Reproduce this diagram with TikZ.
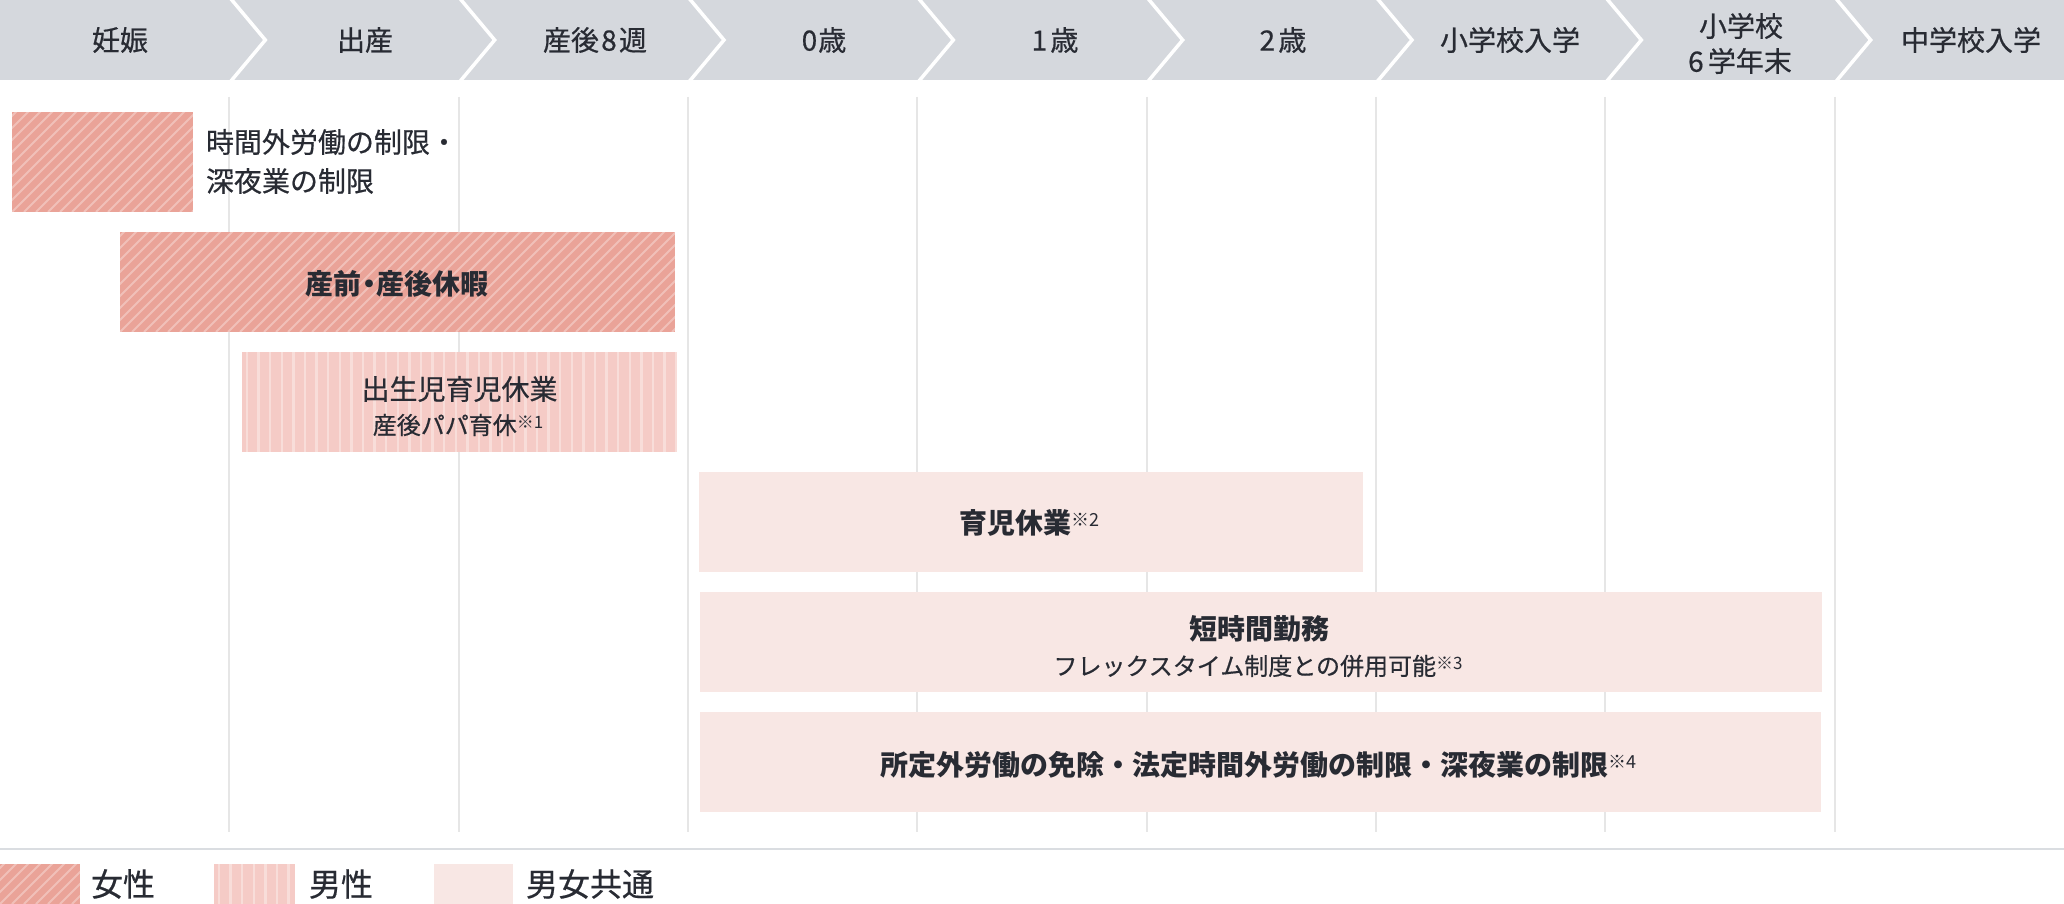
\documentclass[tikz,border=0pt]{standalone}
\usepackage{fontspec}
\newfontfamily\jp{Noto Sans CJK JP}
\newfontfamily\jpm{Noto Sans CJK JP}[FakeBold=0.5]
\definecolor{hdr}{HTML}{D5D8DD}
\definecolor{txt}{HTML}{282B33}
\definecolor{femfill}{HTML}{EAA398}
\definecolor{malefill}{HTML}{F5CBC6}
\definecolor{comfill}{HTML}{F8E7E4}
\definecolor{gridc}{HTML}{E6E6E6}
\definecolor{rulec}{HTML}{DADDE1}
\newcommand\kome[3]{\raisebox{#2}{\jp\mdseries\fontsize{#1}{#1}\selectfont ※#3}}
\tikzset{
  every node/.style={text=txt, inner sep=0pt, outer sep=0pt},
  fembox/.style={fill=femfill, path picture={%
      \foreach \i in {-12,...,50}{%
        \draw[white, opacity=0.32, line width=2pt]
          ([xshift=\i*12pt]path picture bounding box.south west) -- ++(140pt,140pt);}}},
  malebox/.style={fill=malefill, path picture={%
      \foreach \i in {0,...,45}{%
        \draw[white, opacity=0.35, line width=2.5pt]
          ([xshift=\i*11.6pt+5pt]path picture bounding box.south west) -- ++(0pt,140pt);}}},
  combox/.style={fill=comfill},
  bar/.style={anchor=north west, inner sep=0pt, minimum height=100pt},
  swatch/.style={anchor=north west, inner sep=0pt, minimum height=40pt},
  hdrtext/.style={font=\jpm\fontsize{28}{34}\selectfont},
  maintext/.style={font=\jpm\fontsize{28}{34}\selectfont},
  boldtext/.style={font=\jp\bfseries\fontsize{28}{34}\selectfont},
  subtext/.style={font=\jpm\fontsize{24}{30}\selectfont},
  legtext/.style={font=\jpm\fontsize{32}{38}\selectfont, anchor=west},
  sep/.style={white, line width=3.5pt},
  gridline/.style={gridc, line width=2pt},
}
\begin{document}
\begin{tikzpicture}[x=1pt, y=-1pt]
\useasboundingbox (0,0) rectangle (2064,904);
\fill[white] (0,0) rectangle (2064,904);
% header band
\fill[hdr] (0,0) rectangle (2064,80);
\foreach \k in {1,...,8}{
  \draw[sep] ({\k*229.333},-3) -- ({\k*229.333+36},40) -- ({\k*229.333},83);
}
\node[hdrtext] (h0) at (120,40) {妊娠};
\node[hdrtext] (h1) at (365,40) {出産};
\node[hdrtext] (h2) at (595,40) {産後\kern0.08em 8\kern0.08em 週};
\node[hdrtext] (h3) at (824,40) {0\kern0.04em 歳};
\node[hdrtext] (h4) at (1055,40) {1\kern0.12em 歳};
\node[hdrtext] (h5) at (1283,40) {2\kern0.12em 歳};
\node[hdrtext] (h6) at (1510,40) {小学校入学};
\node[hdrtext] (h7a) at (1741,26) {小学校};
\node[hdrtext] (h7b) at (1740,61) {6\kern0.15em 学年末};
\node[hdrtext] (h8) at (1971,40) {中学校入学};
% grid lines
\foreach \k in {1,...,8}{
  \draw[gridline] ({\k*229.333},97) -- ({\k*229.333},832);
}
% bars
\node[bar, fembox, minimum width=181pt] (b1) at (12,112) {};
\node[maintext, anchor=west] (t1a) at (206,142) {時間外労働の制限・};
\node[maintext, anchor=west] (t1b) at (206,181) {深夜業の制限};

\node[bar, fembox, minimum width=555pt] (b2) at (120,232) {};
\node[boldtext] (t2) at (397,284) {産前\kern-0.22em・\kern-0.22em産後休暇};

\node[bar, malebox, minimum width=435pt] (b3) at (242,352) {};
\node[maintext] (t3a) at (459.5,389) {出生児育児休業};
\node[subtext] (t3b) at (458,425) {産後パパ育休\kome{17pt}{6pt}{1}};

\node[bar, combox, minimum width=664pt] (b4) at (699,472) {};
\node[boldtext] (t4) at (1029,523) {育児休業\kome{18pt}{7pt}{2}};

\node[bar, combox, minimum width=1122pt] (b5) at (700,592) {};
\node[boldtext] (t5a) at (1259,629) {短時間勤務};
\node[subtext] (t5b) at (1258,666) {フレックスタイム制度との併用可能\kome{17pt}{6pt}{3}};

\node[bar, combox, minimum width=1121pt] (b6) at (700,712) {};
\node[boldtext] (t6) at (1258,765) {所定外労働の免除・法定時間外労働の制限・深夜業の制限\kome{18pt}{7pt}{4}};
% legend
\draw[rulec, line width=2.5pt] (0,849) -- (2064,849);
\node[swatch, fembox, minimum width=80pt] (l1) at (0,864) {};
\node[legtext] (lt1) at (91,884) {女性};
\node[swatch, malebox, minimum width=81pt] (l2) at (214,864) {};
\node[legtext] (lt2) at (309,884) {男性};
\node[swatch, combox, minimum width=79pt] (l3) at (434,864) {};
\node[legtext] (lt3) at (526,884) {男女共通};
\end{tikzpicture}
\end{document}
